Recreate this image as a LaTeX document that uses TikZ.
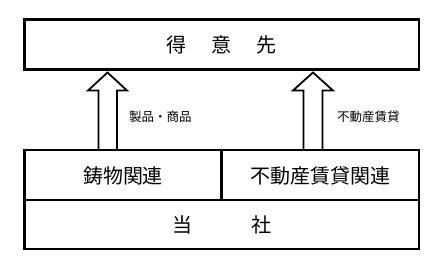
\documentclass[tikz,border=0pt]{standalone}
\usepackage{fontspec}
\newfontfamily\jp{Noto Sans CJK JP}
\begin{document}
\begin{tikzpicture}[x=1pt,y=-1pt,
  box/.style={draw=black,line width=2.5pt,fill=white},
  bigtxt/.style={font=\jp\fontsize{20}{22}\selectfont,inner sep=0pt},
  smalltxt/.style={font=\jp\fontsize{12.5}{14}\selectfont,inner sep=0pt,anchor=west},
  fatarrow/.style={draw=black,line width=1.8pt,fill=white,line join=miter}]
\useasboundingbox (0,0) rectangle (448,266);
\fill[white] (0,0) rectangle (448,266);
% boxes
\draw[box] (24.5,19.5) rectangle (419,69.5);
\node[bigtxt] (client) at (221.7,44.5) {得\hspace{25pt}意\hspace{25pt}先};
\draw[box] (24.5,150) rectangle (419,249);
\draw[line width=2.5pt] (24.5,200) -- (419,200);
\draw[line width=2.5pt] (221.7,150) -- (221.7,200);
\node[bigtxt] (cast) at (123,176) {鋳物関連};
\node[bigtxt] (estate) at (320.5,176) {不動産賃貸関連};
\node[bigtxt] (self) at (221.7,225) {当\hspace{59pt}社};
% arrows
\draw[fatarrow] (98.5,150) -- (98.5,90.5) -- (88,90.5) -- (107.5,72.5) -- (127,90.5) -- (117,90.5) -- (117,150) -- cycle;
\draw[fatarrow] (303.5,150) -- (303.5,90.5) -- (293,90.5) -- (313,72.5) -- (333,90.5) -- (322.5,90.5) -- (322.5,150) -- cycle;
\draw[line width=2.5pt] (97.5,150) -- (118,150);
\draw[line width=2.5pt] (302.5,150) -- (323.5,150);
\node[smalltxt] (goods) at (129,117) {製品・商品};
\node[smalltxt] (rent) at (337,117) {不動産賃貸};
\end{tikzpicture}
\end{document}
